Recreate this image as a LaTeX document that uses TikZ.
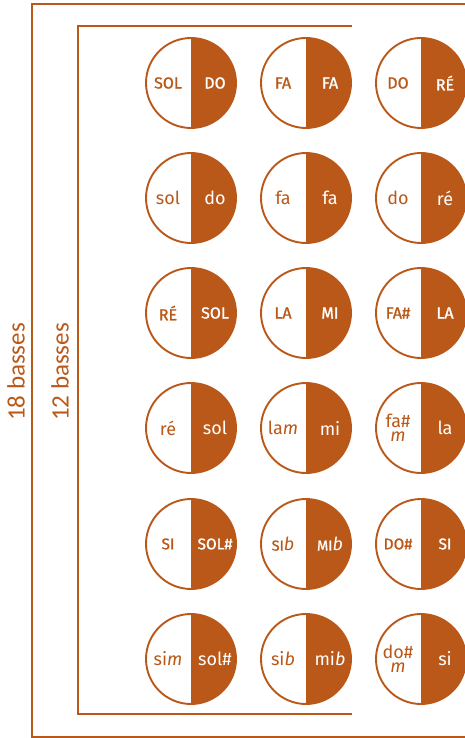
\documentclass[tikz,border=0pt]{standalone}
\usepackage{fontspec}
\setmainfont{Fira Sans}
\newfontfamily\capfont[FakeBold=1.2]{Fira Sans}
\newfontfamily\lblfont{Carlito}
\definecolor{brn}{RGB}{185,88,24}
\tikzset{
  bb/.style={circle, minimum size=90pt, inner sep=0pt, draw=brn, line width=1.9pt,
    path picture={\fill[brn] (path picture bounding box.north) rectangle (path picture bounding box.south east);}},
  lt/.style={text=brn, inner sep=0pt, align=center, font=\fontsize{18}{14}\selectfont},
  rt/.style={text=white, inner sep=0pt, align=center, font=\fontsize{18}{14}\selectfont},
  bracket/.style={draw=brn, line width=2pt},
  side/.style={text=brn, rotate=90, inner sep=0pt, font=\lblfont\fontsize{25}{25}\selectfont}
}
\newcommand\UC[2][16]{{\capfont\fontsize{#1}{#1}\selectfont #2}}
\newcommand\SC[1]{{\capfont\fontsize{14.5}{14.5}\selectfont #1}}
\newcommand\bbc[5]{%
  \node[bb] (#1) at (#2,#3) {};
  \node[lt] (#1l) at ([xshift=-23pt]#1.center) {#4};
  \node[rt] (#1r) at ([xshift=24pt]#1.center) {#5};}
\begin{document}
\begin{tikzpicture}[x=1pt,y=-1pt]
\useasboundingbox (0,0) rectangle (465,738);
% brackets
\coordinate (o1) at (466,4);
\coordinate (o2) at (32,4);
\coordinate (o3) at (32,736.5);
\coordinate (o4) at (466,736.5);
\draw[bracket] (o1) -- (o2) -- (o3) -- (o4);
\coordinate (i1) at (352,26);
\coordinate (i2) at (78,26);
\coordinate (i3) at (78,714);
\coordinate (i4) at (352,714);
\draw[bracket] (i1) -- (i2) -- (i3) -- (i4);
\node[side] (l18) at (16,372) {18 basses};
\node[side] (l12) at (60,372) {12 basses};
% row 1
\bbc{a1}{191}{83}{\UC{SOL}}{\UC{DO}}
\bbc{a2}{306}{83}{\UC{FA}}{\UC{FA}}
\bbc{a3}{421}{83}{\UC{DO}}{\UC{RÉ}}
% row 2
\bbc{b1}{191}{198}{sol}{do}
\bbc{b2}{306}{198}{fa}{fa}
\bbc{b3}{421}{198}{do}{ré}
% row 3
\bbc{c1}{191}{313}{\UC{RÉ}}{\UC{SOL}}
\bbc{c2}{306}{313}{\UC{LA}}{\UC{MI}}
\bbc{c3}{421}{313}{\UC{FA\#}}{\UC{LA}}
% row 4
\bbc{d1}{191}{428}{ré}{sol}
\bbc{d2}{306}{428}{la\textit{m}}{mi}
\bbc{d3}{421}{428}{fa\#\\\textit{m}}{la}
% row 5
\bbc{e1}{191}{544}{\UC[15.5]{SI}}{\UC[15.5]{SOL\#}}
\bbc{e2}{306}{544}{\SC{SI}\textit{b}}{\SC{MI}\textit{b}}
\bbc{e3}{421}{544}{\UC[15.5]{DO\#}}{\UC[15.5]{SI}}
% row 6
\bbc{f1}{191}{659}{si\textit{m}}{sol\#}
\bbc{f2}{306}{659}{si\textit{b}}{mi\textit{b}}
\bbc{f3}{421}{659}{do\#\\\textit{m}}{si}
\end{tikzpicture}
\end{document}
